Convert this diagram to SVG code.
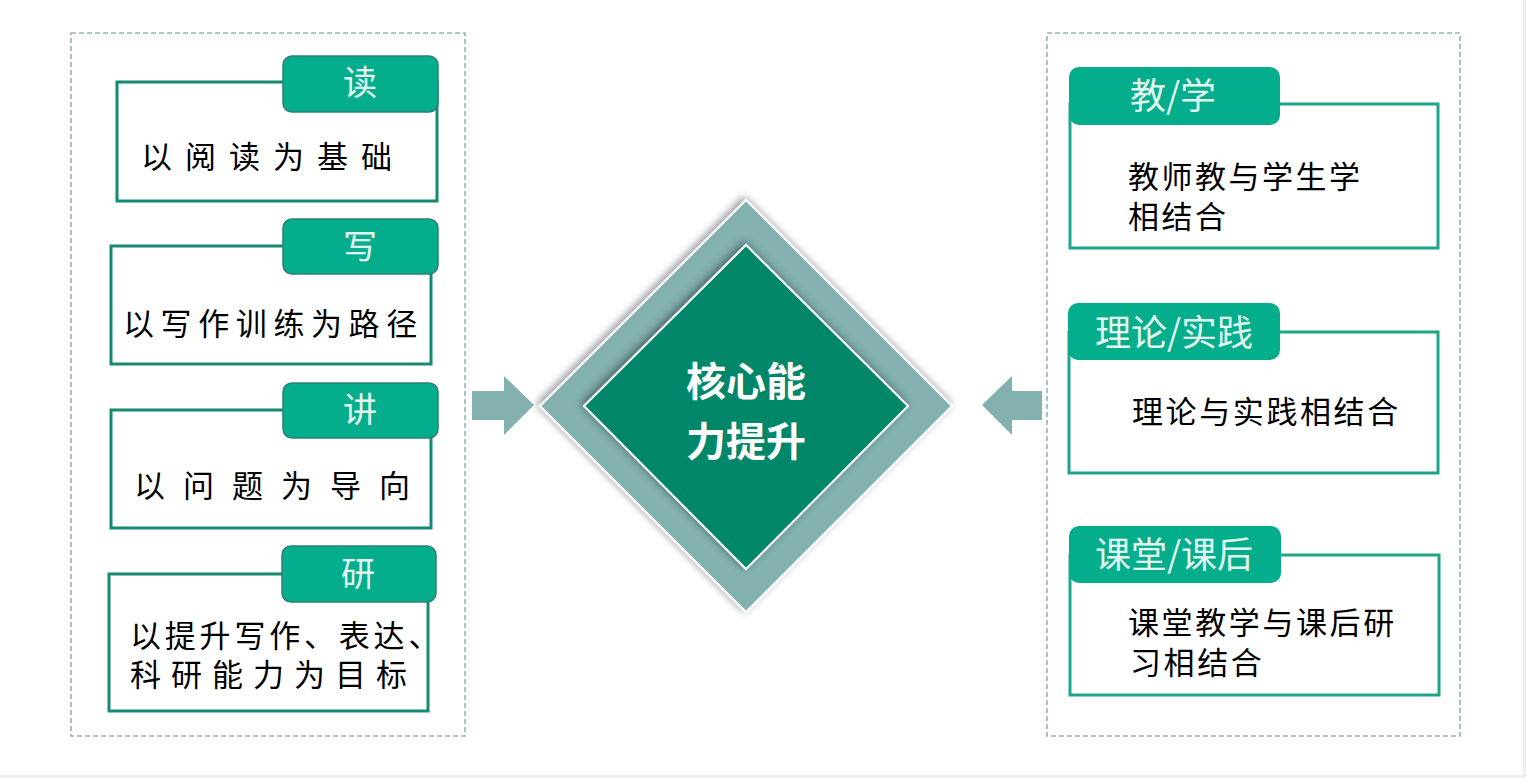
<svg xmlns="http://www.w3.org/2000/svg" width="1526" height="778" viewBox="0 0 1526 778">
  <defs>
    <style>
      .frame { fill: none; stroke: #93b4b4; stroke-width: 1.6; stroke-dasharray: 5 3; }
      .boxL { fill: #ffffff; stroke: #168a72; stroke-width: 3; }
      .boxR { fill: #ffffff; stroke: #1fa68a; stroke-width: 3; }
      .tab { fill: #04ae8c; stroke: #2f7f78; stroke-width: 1.5; }
      .tabR { fill: #04ae8c; stroke: none; }
      .tabtxt { font-family: "Noto Sans CJK SC", "Noto Sans", sans-serif; font-size: 34px; fill: #e4f7ef; text-anchor: middle; }
      .tabtxtR { font-family: "Noto Sans CJK SC", "Noto Sans", sans-serif; font-size: 36px; fill: #e4f7ef; text-anchor: middle; }
      .body { font-family: "Noto Sans CJK SC", "Noto Sans", sans-serif; font-size: 31px; fill: #000000; }
      .core { font-family: "Noto Sans CJK SC", "Noto Sans", sans-serif; font-size: 40px; font-weight: bold; fill: #ffffff; text-anchor: middle; }
      .arrow { fill: #82b1b0; }
    </style>
    <filter id="shadow" x="-20%" y="-20%" width="140%" height="140%">
      <feDropShadow dx="-2" dy="-2" stdDeviation="4" flood-color="#000000" flood-opacity="0.45"/>
    </filter>
  </defs>

  <rect x="0" y="0" width="1526" height="778" fill="#efefef"/>
  <rect x="0" y="0" width="1523" height="775" fill="#ffffff"/>

  <rect class="frame" x="71" y="33" width="394" height="703"/>
  <rect class="frame" x="1047" y="33" width="413" height="703"/>

  <g id="node-read">
    <rect class="boxL" x="117" y="82" width="320" height="119"/>
    <rect class="tab" x="283" y="56" width="155" height="56" rx="9"/>
    <text class="tabtxt" x="360" y="95">读</text>
    <text class="body" x="141" y="168" letter-spacing="13">以阅读为基础</text>
  </g>

  <g id="node-write">
    <rect class="boxL" x="111" y="246" width="320" height="118"/>
    <rect class="tab" x="283" y="219" width="155" height="55" rx="9"/>
    <text class="tabtxt" x="360" y="259">写</text>
    <text class="body" x="123" y="335" letter-spacing="6.6">以写作训练为路径</text>
  </g>

  <g id="node-speak">
    <rect class="boxL" x="111" y="410" width="320" height="118"/>
    <rect class="tab" x="283" y="383" width="155" height="55" rx="9"/>
    <text class="tabtxt" x="360" y="422">讲</text>
    <text class="body" x="134" y="497" letter-spacing="18">以问题为导向</text>
  </g>

  <g id="node-research">
    <rect class="boxL" x="109" y="574" width="319" height="137"/>
    <rect class="tab" x="282" y="546" width="154" height="56" rx="9"/>
    <text class="tabtxt" x="358" y="586">研</text>
    <text class="body"><tspan x="130" y="647" letter-spacing="3.8">以提升写作、表达、</tspan><tspan x="130" y="686" letter-spacing="10">科研能力为目标</tspan></text>
  </g>

  <g id="node-core">
    <polygon points="746,200 952,406 746,612 540,406" fill="#82b1b0" stroke="#ffffff" stroke-width="2" filter="url(#shadow)"/>
    <polygon points="746,245 908,406 746,569 584,406" fill="#03876b" stroke="#ffffff" stroke-width="2" filter="url(#shadow)"/>
    <text class="core"><tspan x="746" y="396">核心能</tspan><tspan x="746" y="456">力提升</tspan></text>
  </g>

  <g id="node-teach">
    <rect class="boxR" x="1070" y="104" width="368" height="144"/>
    <rect class="tabR" x="1069" y="67" width="211" height="58" rx="10"/>
    <text class="tabtxtR" x="1173" y="109">教/学</text>
    <text class="body" letter-spacing="2.5"><tspan x="1128" y="188">教师教与学生学</tspan><tspan x="1128" y="228">相结合</tspan></text>
  </g>

  <g id="node-theory">
    <rect class="boxR" x="1069" y="332" width="369" height="141"/>
    <rect class="tabR" x="1068" y="303" width="212" height="57" rx="10"/>
    <text class="tabtxtR" x="1174" y="346">理论/实践</text>
    <text class="body" x="1132" y="423" letter-spacing="2.6">理论与实践相结合</text>
  </g>

  <g id="node-class">
    <rect class="boxR" x="1070" y="555" width="369" height="140"/>
    <rect class="tabR" x="1069" y="526" width="212" height="57" rx="10"/>
    <text class="tabtxtR" x="1174" y="568">课堂/课后</text>
    <text class="body" letter-spacing="2.6"><tspan x="1128" y="634">课堂教学与课后研</tspan><tspan x="1130" y="674">习相结合</tspan></text>
  </g>

  <g id="connectors">
    <polygon class="arrow" points="472,391 504,391 504,376 534,405 504,435 504,420 472,420"/>
    <polygon class="arrow" points="1042,391 1012,391 1012,376 982,405 1012,435 1012,420 1042,420"/>
  </g>
</svg>
